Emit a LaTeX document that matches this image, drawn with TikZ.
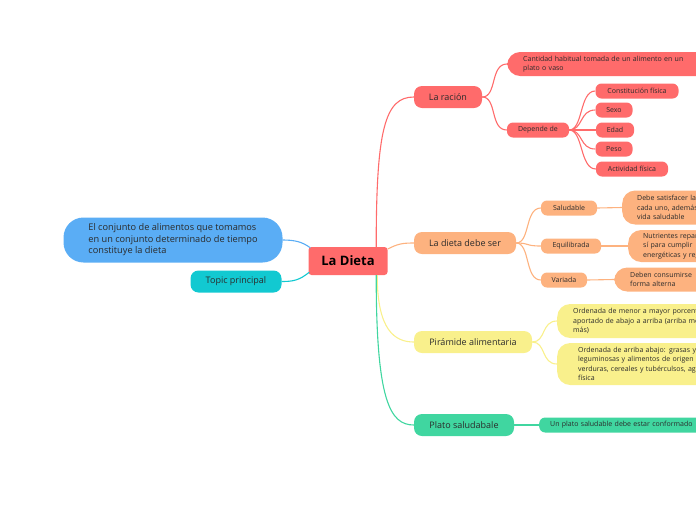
\documentclass[tikz,border=0pt]{standalone}
\usepackage{fontspec}
\setmainfont{Open Sans}
\definecolor{mapred}{HTML}{FF6B6B}
\definecolor{maporange}{HTML}{FDB27F}
\definecolor{mapyellow}{HTML}{F9F08C}
\definecolor{mapgreen}{HTML}{40D6A0}
\definecolor{mapblue}{HTML}{5AADF5}
\definecolor{mapcyan}{HTML}{12C9D1}
\definecolor{ink}{HTML}{2B2B2B}

\begin{document}
\begin{tikzpicture}[
    x=1pt, y=-1pt,
    root/.style={rectangle, rounded corners=3pt, fill=mapred, text=black, minimum width=79pt, minimum height=28pt, inner sep=0pt, font=\fontsize{13}{15}\selectfont\bfseries},
    branch/.style={rectangle, rounded corners=8pt, text=ink, minimum height=22pt, inner sep=0pt, font=\fontsize{9}{10.5}\selectfont},
    leaf/.style={rectangle, rounded corners=6pt, text=ink, minimum height=15pt, inner sep=0pt, font=\fontsize{7}{9}\selectfont},
    note/.style={rectangle, rounded corners=13pt, text=ink, anchor=west, align=left, text width=200pt, inner ysep=0pt, font=\fontsize{7}{9.5}\selectfont},
    link/.style={line width=1.1pt}
]
    \clip (0,0) rectangle (696,520);

    % Centre
    \node[root] (dieta) at (348,261) {La Dieta};
    \node[rectangle, rounded corners=20pt, fill=mapblue, text=ink, minimum width=219pt, minimum height=45pt, align=left, font=\fontsize{9.2}{11.5}\selectfont] (conjunto) at (173,240) {El conjunto de alimentos que tomamos\\en un conjunto determinado de tiempo\\constituye la dieta};
    \node[branch, fill=mapcyan, minimum width=91pt] (topic) at (236,281.5) {Topic principal};

    % Main branches
    \node[branch, fill=mapred, minimum width=68pt] (racion) at (448,97) {La ración};
    \node[branch, fill=maporange, minimum width=102pt] (debe) at (465,243) {La dieta debe ser};
    \node[branch, fill=mapyellow, minimum width=118pt] (piramide) at (473,342) {Pirámide alimentaria};
    \node[branch, fill=mapgreen, minimum width=100pt] (plato) at (464,425) {Plato saludabale};

    % La racion
    \node[note, fill=mapred, minimum height=24pt, inner xsep=16pt] (cantidad) at (507,64) {Cantidad habitual tomada de un alimento en un\\plato o vaso};
    \node[leaf, fill=mapred, minimum width=62pt] (depende) at (538,130) {Depende de};
    \node[leaf, fill=mapred, minimum width=83pt] (constitucion) at (637,91) {Constitución física};
    \node[leaf, fill=mapred, minimum width=37pt] (sexo) at (614,110) {Sexo};
    \node[leaf, fill=mapred, minimum width=38pt] (edad) at (615,130) {Edad};
    \node[leaf, fill=mapred, minimum width=37pt] (peso) at (614,149) {Peso};
    \node[leaf, fill=mapred, minimum width=72pt] (actividad) at (632,169) {Actividad física};

    % La dieta debe ser
    \node[leaf, fill=maporange, minimum width=56pt] (saludable) at (569,208) {Saludable};
    \node[leaf, fill=maporange, minimum width=60pt] (equilibrada) at (571,246) {Equilibrada};
    \node[leaf, fill=maporange, minimum width=46pt] (variada) at (564,280) {Variada};
    \node[note, fill=maporange, minimum height=34pt, inner xsep=15pt] (satisfacer) at (622,207.5) {Debe satisfacer las\\cada uno, además\\vida saludable};
    \node[note, fill=maporange, minimum height=32pt, inner xsep=15pt] (nutrientes) at (628,246) {Nutrientes repartidos\\sí para cumplir\\energéticas y reguladoras};
    \node[note, fill=maporange, minimum height=24pt, inner xsep=16pt] (consumirse) at (614,279.5) {Deben consumirse\\forma alterna};

    % Piramide
    \node[note, fill=mapyellow, minimum height=34pt, inner xsep=16pt] (menor) at (557,321) {Ordenada de menor a mayor porcentaje\\aportado de abajo a arriba (arriba menos\\más)};
    \node[note, fill=mapyellow, minimum height=42pt, inner xsep=21pt] (arriba) at (557,364) {Ordenada de arriba abajo: grasas y\\leguminosas y alimentos de origen\\verduras, cereales y tubérculsos, agua\\física};

    % Plato
    \node[note, fill=mapgreen, rounded corners=6pt, minimum height=15pt, inner xsep=11pt, font=\fontsize{7}{9}\selectfont] (conformado) at (539,425) {Un plato saludable debe estar conformado};

    % Connectors from the centre
    \draw[link, mapred] ([xshift=-11.5pt]dieta.north east) .. controls +(0,-117) and +(-29,0) .. (racion.west);
    \draw[link, maporange] ([yshift=12pt]dieta.east) .. controls +(10,-5) and +(-12,0) .. (debe.west);
    \draw[link, mapyellow] ([xshift=-10.5pt]dieta.south east) .. controls +(0,55) and +(-19,0) .. (piramide.west);
    \draw[link, mapgreen] ([xshift=-11.5pt]dieta.south east) .. controls +(0,125) and +(-24,0) .. (plato.west);
    \draw[link, mapblue] ([xshift=2pt,yshift=-1pt]dieta.north west) .. controls +(-8,-6) and +(12,0) .. (conjunto.east);
    \draw[link, mapcyan] ([xshift=1pt,yshift=3pt]dieta.south west) .. controls +(-10,8) and +(12,0) .. (topic.east);

    % Sub connectors
    \foreach \n in {cantidad,depende}
        \draw[link, mapred] (racion.east) .. controls +(15,0) and +(-17,0) .. (\n.west);
    \foreach \n in {constitucion,sexo,edad,peso,actividad}
        \draw[link, mapred] (depende.east) .. controls +(14,0) and +(-16,0) .. (\n.west);
    \foreach \n in {saludable,equilibrada,variada}
        \draw[link, maporange] (debe.east) .. controls +(14,0) and +(-16,0) .. (\n.west);
    \draw[link, maporange] (saludable.east) -- (satisfacer.west);
    \draw[link, maporange] (equilibrada.east) -- (nutrientes.west);
    \draw[link, maporange] (variada.east) -- (consumirse.west);
    \foreach \n in {menor,arriba}
        \draw[link, mapyellow] (piramide.east) .. controls +(14,0) and +(-16,0) .. (\n.west);
    \draw[link, mapgreen] (plato.east) -- (conformado.west);

\end{tikzpicture}
\end{document}
